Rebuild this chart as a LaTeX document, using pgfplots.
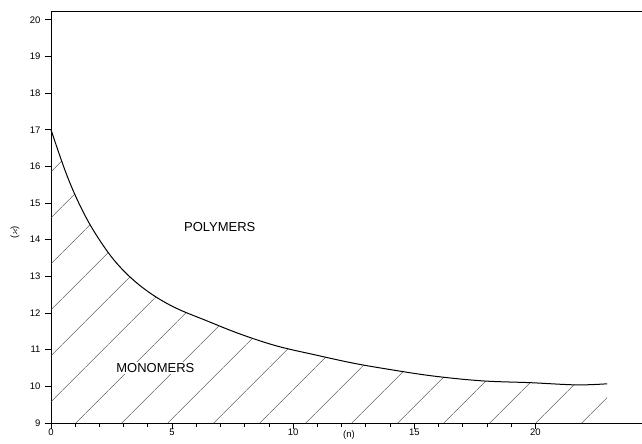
\documentclass[border=0pt]{standalone}
\usepackage{pgfplots}
\pgfplotsset{compat=1.18}
\usepackage{amssymb}
\usepackage{fontspec}
\setmainfont{Liberation Sans}
\usetikzlibrary{patterns.meta}
\begin{document}
\begin{tikzpicture}
\begin{axis}[
  scale only axis,
  width=591pt, height=412pt,
  xmin=0, xmax=24.4,
  ymin=9, ymax=20.24,
  axis x line*=bottom,
  axis y line*=left,
  xtick={0,5,10,15,20},
  minor x tick num=4,
  ytick={9,10,...,20},
  tick align=outside,
  major tick length=6pt,
  minor tick length=4pt,
  tick style={black, line width=0.8pt},
  axis line style={black, line width=0.9pt},
  tick label style={font=\fontsize{9.5}{11}\selectfont},
  /pgf/number format/assume math mode=true,
  xticklabel style={yshift=3.5pt},
  yticklabel style={xshift=-1pt},
  clip=false,
]
\addplot[draw=none, smooth, tension=0.6, pattern={Lines[angle=45,distance=33pt,line width=0.6pt]}, pattern color=black!75]
  coordinates {
  (0,17.0) (0.62,15.82) (1.2,14.93) (1.85,14.15) (2.71,13.36) (3.75,12.71)
  (4.99,12.19) (6.5,11.77) (7.84,11.42) (9.33,11.10) (10.9,10.86) (12.5,10.63)
  (14.08,10.45) (15.8,10.28) (17.8,10.15) (19.8,10.10) (21.7,10.04) (22.96,10.07)
  } \closedcycle;
\addplot[black, line width=1pt, smooth, tension=0.6]
  coordinates {
  (0,17.0) (0.62,15.82) (1.2,14.93) (1.85,14.15) (2.71,13.36) (3.75,12.71)
  (4.99,12.19) (6.5,11.77) (7.84,11.42) (9.33,11.10) (10.9,10.86) (12.5,10.63)
  (14.08,10.45) (15.8,10.28) (17.8,10.15) (19.8,10.10) (21.7,10.04) (22.96,10.07)
  };
\draw[black, line width=0.9pt] (rel axis cs:0,1) -- (rel axis cs:1,1);
\node[anchor=west, font=\fontsize{13}{15}\selectfont] at (axis cs:5.35,14.36) {POLYMERS};
\node[anchor=west, fill=white, inner sep=1pt, font=\fontsize{13}{15}\selectfont] at (axis cs:2.65,10.5) {MONOMERS};
\path (axis cs:12.3,9) ++(0pt,-12.5pt) node[font=\fontsize{9.5}{11}\selectfont] {(n)};
\path (axis cs:0,14.2) ++(-36pt,0pt) node[rotate=90, font=\fontsize{9.5}{11}\selectfont] {($\varkappa$)};
\end{axis}
\pgfresetboundingbox
\path (current axis.south west) ++(-51pt,-20pt) coordinate (a);
\path (current axis.north east) ++(0pt,11pt) coordinate (b);
\path (a) rectangle (b);
\end{tikzpicture}
\end{document}
